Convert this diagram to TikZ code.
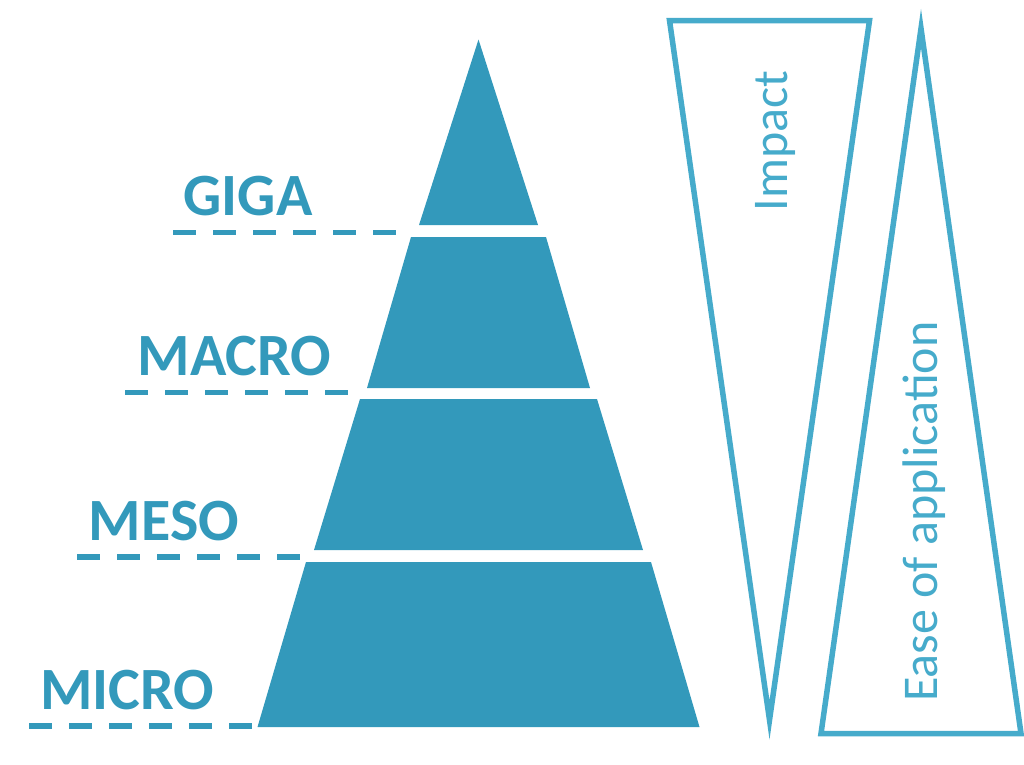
\documentclass[tikz,border=0pt]{standalone}
\usepackage{fontspec}
\setmainfont{Carlito}
\definecolor{pyr}{HTML}{3399BB}
\definecolor{outl}{HTML}{46ABCB}
\begin{document}
\begin{tikzpicture}[x=1pt,y=-1pt,
  band/.style={fill=pyr,draw=none},
  lvl/.style={font=\fontsize{60}{60}\selectfont\bfseries,text=pyr,inner sep=0pt,anchor=base},
  dashline/.style={draw=pyr,line width=5.5pt,dash pattern=on 23pt off 17pt},
  tri/.style={draw=outl,line width=5.5pt,line join=miter,fill=none},
  side/.style={font=\fontsize{50}{50}\selectfont,text=outl,inner sep=0pt,anchor=base,rotate=90}]
\useasboundingbox (0,0) rectangle (1024,764);
% pyramid bands
\fill[band] (478.5,39.5) -- (538,225) -- (419,225) -- cycle;
\fill[band] (411,237) -- (546,237) -- (590,388) -- (367,388) -- cycle;
\fill[band] (360,399) -- (597,399) -- (643,550) -- (314,550) -- cycle;
\fill[band] (306,562) -- (651,562) -- (699.5,727) -- (257.5,727) -- cycle;
% dashed guide lines
\coordinate (g1) at (173,232.7);  \coordinate (g2) at (397,232.7);
\coordinate (m1) at (125,392.3);  \coordinate (m2) at (349,392.3);
\coordinate (s1) at (77,557);     \coordinate (s2) at (301,557);
\coordinate (c1) at (29,726);     \coordinate (c2) at (253,726);
\draw[dashline] (g1) -- (g2);
\draw[dashline] (m1) -- (m2);
\draw[dashline] (s1) -- (s2);
\draw[dashline] (c1) -- (c2);
% level labels
\node[lvl] (giga) at (248,215) {GIGA};
\node[lvl] (macro) at (234.5,375) {MACRO};
\node[lvl] (meso) at (164,540) {MESO};
\node[lvl] (micro) at (127.5,709) {MICRO};
% outline triangles
\draw[tri] (669.5,20.5) -- (869.5,20.5) -- (769.5,720) -- cycle;
\draw[tri] (921,28.5) -- (1021,733.5) -- (821,733.5) -- cycle;
% side labels
\node[side] (impact) at (787,141) {Impact};
\node[side] (ease) at (937,511.5) {Ease of application};
\end{tikzpicture}
\end{document}
